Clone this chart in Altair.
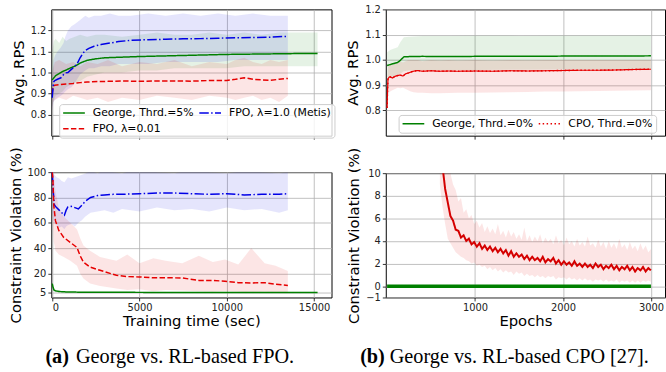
import altair as alt
import pandas as pd

# ---------------- (a) top : Avg. RPS vs training time ----------------
tl_george_x = [0, 100, 200, 400, 600, 800, 1000, 1300, 1600, 2000, 2500, 3000, 4000, 5000,
               6000, 7000, 8000, 9000, 10000, 11000, 12000, 13000, 14000, 15200]
tl_george_y = [0.965, 0.975, 0.985, 0.995, 1.005, 1.012, 1.02, 1.03, 1.045, 1.058, 1.065, 1.07,
               1.073, 1.076, 1.078, 1.08, 1.082, 1.084, 1.086, 1.087, 1.088, 1.089, 1.09, 1.09]
tl_george_hi = [1.10, 1.15, 1.16, 1.14, 1.17, 1.15, 1.16, 1.17, 1.18, 1.17, 1.18, 1.18,
                1.17, 1.18, 1.19, 1.18, 1.18, 1.19, 1.18, 1.19, 1.18, 1.19, 1.19, 1.19]
tl_george_lo = [0.84, 0.87, 0.89, 0.90, 0.91, 0.93, 0.94, 0.95, 0.96, 0.98, 0.99, 1.00,
                1.00, 1.01, 1.01, 1.02, 1.02, 1.02, 1.02, 1.03, 1.03, 1.03, 1.03, 1.03]

tl_metis_x = [0, 40, 80, 150, 300, 500, 650, 750, 900, 1100, 1300, 1450, 1600, 1750, 1900,
              2100, 2400, 2800, 3300, 3800, 4500, 5500, 6500, 7500, 8500, 9500, 10500, 11500,
              12500, 13500]
tl_metis_y = [0.88, 0.92, 0.955, 0.962, 0.968, 0.975, 0.99, 0.998, 1.0, 1.015, 1.03, 1.045,
              1.07, 1.09, 1.105, 1.115, 1.125, 1.133, 1.14, 1.147, 1.153, 1.156, 1.158, 1.16,
              1.161, 1.163, 1.165, 1.166, 1.168, 1.172]
tl_metis_hi = [0.95, 1.02, 1.06, 1.08, 1.10, 1.12, 1.14, 1.17, 1.2, 1.22, 1.23, 1.24, 1.25,
               1.26, 1.27, 1.26, 1.27, 1.27, 1.28, 1.27, 1.27, 1.28, 1.27, 1.28, 1.27, 1.28,
               1.27, 1.28, 1.27, 1.27]
tl_metis_lo = [0.82, 0.84, 0.86, 0.87, 0.88, 0.89, 0.9, 0.91, 0.92, 0.93, 0.95, 0.97, 0.99,
               1.0, 1.01, 1.02, 1.02, 1.03, 1.03, 1.04, 1.04, 1.04, 1.05, 1.05, 1.05, 1.05,
               1.06, 1.06, 1.06, 1.06]

tl_fpo_x = [0, 50, 150, 400, 800, 1200, 1600, 2000, 2600, 3200, 4000, 5000, 6000, 7000,
            8000, 9000, 10000, 10500, 11000, 11500, 12000, 12500, 13000, 13500]
tl_fpo_y = [0.90, 0.935, 0.94, 0.942, 0.945, 0.948, 0.952, 0.955, 0.957, 0.958, 0.96, 0.958,
            0.96, 0.96, 0.959, 0.962, 0.962, 0.968, 0.975, 0.968, 0.965, 0.963, 0.968, 0.972]
tl_fpo_hi = [0.98, 1.02, 1.05, 1.06, 1.04, 1.05, 1.03, 1.05, 1.04, 1.06, 1.03, 1.05,
             1.04, 1.06, 1.03, 1.05, 1.04, 1.06, 1.07, 1.05, 1.04, 1.06, 1.05, 1.06]
tl_fpo_lo = [0.82, 0.86, 0.87, 0.88, 0.87, 0.89, 0.88, 0.87, 0.88, 0.86, 0.88, 0.87,
             0.89, 0.88, 0.87, 0.89, 0.88, 0.87, 0.88, 0.89, 0.87, 0.88, 0.86, 0.89]

# ---------------- (a) bottom : constraint violation ----------------
bl_metis_x = [0, 60, 130, 250, 400, 550, 700, 800, 900, 1100, 1300, 1500, 1700, 1900, 2200,
              2600, 3000, 3500, 4000, 5000, 6000, 7000, 8000, 9000, 10000, 11000, 12000,
              13000, 13500]
bl_metis_y = [100, 85, 74, 72, 70, 68, 66, 70, 72.5, 73, 72, 71, 74, 77, 80, 81.5, 82, 82.5,
              82.5, 83, 83.5, 83.5, 83, 82.5, 83, 82, 82.5, 82.5, 83]
bl_metis_hi = [100, 100, 98, 96, 95, 93, 92, 94, 96, 95, 96, 97, 98, 99, 101, 99, 102, 100,
               99, 103, 100, 99, 102, 100, 99, 101, 100, 99, 100]
bl_metis_lo = [70, 62, 60, 58, 56, 57, 55, 57, 58, 59, 57, 60, 62, 65, 68, 69, 70, 68, 71,
               69, 72, 70, 71, 69, 72, 70, 71, 68, 70]

bl_fpo_x = [0, 40, 90, 190, 380, 660, 1040, 1420, 1600, 1790, 2170, 2740, 3680, 4300, 5000,
            5800, 6500, 7450, 8400, 9200, 9900, 10660, 11400, 12170, 12800, 13500]
bl_fpo_y = [100, 95, 74, 61.5, 54, 48.5, 44.5, 40.5, 34, 29, 25, 22.5, 18.5, 17.5, 17.2,
            16.5, 16.6, 16.4, 14.5, 14.5, 13.8, 12.7, 12.5, 12.7, 11.5, 10.5]
bl_fpo_hi = [100, 100, 98, 85, 72, 65, 60, 55, 48, 42, 38, 33, 30, 35, 28, 32, 30, 28, 34,
             29, 31, 27, 40, 28, 26, 22]
bl_fpo_lo = [100, 60, 45, 38, 35, 33, 30, 26, 20, 16, 12, 10, 8, 7, 7.5, 6, 7, 6.5, 6, 5.5,
             6, 5.5, 5, 5.5, 5, 5]

bl_george_x = [0, 50, 100, 200, 400, 800, 1500, 3000, 6000, 10000, 15200]
bl_george_y = [12, 9, 7, 6.2, 5.7, 5.4, 5.2, 5.1, 5.0, 5.0, 5.0]
bl_george_hi = [13, 11, 8.5, 7.2, 6.5, 6.0, 5.8, 5.6, 5.5, 5.5, 5.5]
bl_george_lo = [10, 7, 5.5, 5.2, 5.0, 4.8, 4.6, 4.6, 4.5, 4.5, 4.5]

# ---------------- (b) top : Avg. RPS vs epochs ----------------
tr_george_x = [0, 40, 80, 120, 150, 170, 190, 250, 400, 700, 1000, 1500, 2000, 2500, 3000]
tr_george_y = [0.978, 0.982, 0.986, 0.99, 0.998, 1.005, 1.012, 1.013, 1.014, 1.013, 1.014,
               1.014, 1.015, 1.015, 1.016]
tr_george_hi = [1.03, 1.04, 1.045, 1.05, 1.07, 1.08, 1.09, 1.092, 1.095, 1.095, 1.096, 1.095,
                1.096, 1.096, 1.097]
tr_george_lo = [0.93, 0.93, 0.935, 0.94, 0.945, 0.95, 0.955, 0.958, 0.96, 0.96, 0.96, 0.961,
                0.962, 0.962, 0.963]

tr_cpo_x = [0, 5, 10, 20, 35, 60, 90, 120, 150, 180, 210, 240, 270, 300, 350, 400, 500, 600,
            700, 800, 1000, 1200, 1400, 1600, 1800, 2000, 2200, 2400, 2600, 2800, 3000]
tr_cpo_y = [0.81, 0.88, 0.925, 0.93, 0.933, 0.928, 0.935, 0.938, 0.94, 0.936, 0.945, 0.948,
            0.952, 0.955, 0.958, 0.955, 0.957, 0.955, 0.956, 0.955, 0.956, 0.955, 0.957, 0.956,
            0.957, 0.958, 0.959, 0.959, 0.96, 0.962, 0.963]
tr_cpo_hi = [0.90, 0.95, 0.97, 0.98, 0.985, 0.98, 0.99, 0.99, 0.995, 0.99, 0.995, 1.0, 1.0,
             1.0, 1.0, 0.995, 1.0, 0.998, 1.0, 0.998, 1.0, 0.998, 1.0, 0.999, 1.0, 1.0, 1.0,
             1.0, 1.0, 1.0, 1.0]
tr_cpo_lo = [0.72, 0.80, 0.86, 0.87, 0.875, 0.88, 0.885, 0.89, 0.888, 0.89, 0.885, 0.88,
             0.875, 0.872, 0.87, 0.87, 0.868, 0.868, 0.869, 0.87, 0.87, 0.871, 0.872, 0.873,
             0.875, 0.875, 0.876, 0.877, 0.878, 0.879, 0.88]

# ---------------- (b) bottom : constraint violation vs epochs ----------------
br_cpo_x = [600, 630, 660, 690, 720, 750, 780, 810, 840, 870,
            900, 930, 960, 990, 1020, 1050, 1080, 1110, 1140, 1170,
            1200, 1230, 1260, 1290, 1320, 1350, 1380, 1410, 1440, 1470,
            1500, 1530, 1560, 1590, 1620, 1650, 1680, 1710, 1740, 1770,
            1800, 1830, 1860, 1890, 1920, 1950, 1980, 2010, 2040, 2070,
            2100, 2130, 2160, 2190, 2220, 2250, 2280, 2310, 2340, 2370,
            2400, 2430, 2460, 2490, 2520, 2550, 2580, 2610, 2640, 2670,
            2700, 2730, 2760, 2790, 2820, 2850, 2880, 2910, 2940, 2970,
            3000]
br_cpo_y = [13.0, 10.6, 8.6, 7.4, 6.2, 5.8, 5.0, 4.9, 4.3, 4.5,
            4.0, 4.2, 3.7, 3.9, 3.5, 3.8, 3.3, 3.6, 3.2, 3.5,
            3.1, 3.4, 3.0, 3.3, 2.9, 3.2, 2.7, 3.1, 2.6, 2.9,
            2.6, 2.8, 2.4, 2.7, 2.3, 2.6, 2.3, 2.5, 2.2, 2.6,
            2.1, 2.4, 2.2, 2.5, 2.0, 2.3, 1.9, 2.2, 1.9, 2.1,
            1.8, 2.2, 1.8, 2.0, 1.7, 2.0, 1.7, 1.9, 1.6, 2.0,
            1.7, 1.9, 1.5, 1.8, 1.6, 1.9, 1.5, 1.8, 1.4, 1.7,
            1.5, 1.8, 1.4, 1.7, 1.3, 1.6, 1.4, 1.7, 1.3, 1.6,
            1.4]
br_cpo_hi = [16, 14, 12, 11, 10, 9, 8.5, 7.5, 7.8, 6.5,
             6.8, 6.0, 6.3, 5.5, 5.8, 5.2, 5.6, 4.8, 5.3, 4.7,
             5.1, 4.6, 5.5, 4.5, 4.9, 4.3, 5.0, 4.4, 4.8, 4.2,
             4.6, 4.1, 5.2, 4.0, 4.5, 3.9, 4.4, 4.0, 4.6, 3.8,
             4.3, 3.9, 4.2, 3.7, 4.5, 3.8, 4.1, 3.6, 4.3, 3.7,
             4.0, 3.5, 4.2, 3.6, 3.9, 3.5, 4.4, 3.6, 3.8, 3.4,
             4.1, 3.5, 3.9, 3.3, 4.0, 3.4, 3.8, 3.3, 4.2, 3.4,
             3.7, 3.2, 3.9, 3.3, 3.6, 3.1, 3.8, 3.2, 3.6, 3.0,
             3.3]
br_cpo_lo = [9, 7, 5.5, 4.2, 3.8, 3.4, 3.0, 2.8, 2.6, 2.5,
             2.3, 2.2, 2.0, 2.1, 1.8, 1.9, 1.7, 1.8, 1.5, 1.7,
             1.4, 1.6, 1.3, 1.5, 1.2, 1.4, 1.2, 1.3, 1.0, 1.3,
             1.1, 1.2, 0.9, 1.1, 0.9, 1.0, 0.8, 1.0, 0.8, 0.9,
             0.7, 0.9, 0.8, 0.9, 0.6, 0.8, 0.7, 0.8, 0.6, 0.8,
             0.6, 0.7, 0.5, 0.7, 0.5, 0.7, 0.5, 0.6, 0.4, 0.6,
             0.5, 0.6, 0.4, 0.6, 0.4, 0.5, 0.4, 0.6, 0.3, 0.5,
             0.4, 0.5, 0.3, 0.5, 0.3, 0.5, 0.3, 0.5, 0.4, 0.5,
             0.4]
br_george_x = [0, 3000]
br_george_y = [0, 0]

# ---------------- labels ----------------
tl_names = ["George, Thrd.=5%", "FPO, λ=0.01", "FPO, λ=1.0 (Metis)"]
tr_names = ["George, Thrd.=0%", "CPO, Thrd.=0%"]
left_x_ticks = [0, 5000, 10000, 15000]
right_x_ticks = [1000, 2000, 3000]
rps_ticks = [0.8, 0.9, 1.0, 1.1, 1.2]
bl_y_ticks = [5, 20, 40, 60, 80, 100]
br_y_ticks = [-1, 0, 2, 4, 6, 8, 10]

FONT = "DejaVu Sans"
SERIF = "Liberation Serif"
GREEN, BLUE, RED, DARKRED = "#008000", "#0000e6", "#e60000", "#d40000"
SOLID, DASHED, DASHDOT, DOTTED = [1, 0], [5.5, 2.4], [9.6, 2.4, 1.5, 2.4], [1.5, 2.5]
BAND_OP = 0.1

x_left = alt.Scale(domain=[-50, 16000], nice=False, zero=False)
x_right = alt.Scale(domain=[-15, 3160], nice=False, zero=False)
y_tl = alt.Scale(domain=[0.7, 1.3], nice=False, zero=False)
y_tr = alt.Scale(domain=[0.7, 1.2], nice=False, zero=False)
y_bl = alt.Scale(domain=[1, 100], nice=False, zero=False)
y_br = alt.Scale(domain=[-1, 10], nice=False, zero=False)


def xenc(scale, ticks, labels, title):
    ax = alt.Axis(values=ticks, labels=labels, format="d", title=title)
    return alt.X("x:Q", scale=scale, axis=ax)


def yenc(field, scale, ticks, fmt, title):
    return alt.Y(field, scale=scale, axis=alt.Axis(values=ticks, format=fmt, title=title))


def band(x, lo, hi, color, X, ysc, yt, fmt, title):
    d = pd.DataFrame({"x": x, "lo": lo, "hi": hi})
    return alt.Chart(d).mark_area(color=color, opacity=BAND_OP, clip=True).encode(
        x=X, y=yenc("lo:Q", ysc, yt, fmt, title), y2="hi:Q")


def line(x, y, color, dash, width, X, ysc, yt, fmt, title):
    d = pd.DataFrame({"x": x, "y": y})
    return alt.Chart(d).mark_line(color=color, strokeDash=dash, strokeWidth=width,
                                  clip=True).encode(x=X, y=yenc("y:Q", ysc, yt, fmt, title))


def legend(lx, ly):
    return alt.Legend(title=None, orient="none", legendX=lx, legendY=ly, columns=2,
                      symbolType="stroke", symbolSize=484, symbolStrokeWidth=1.5,
                      labelFont=FONT, labelFontSize=11, labelColor="black", labelLimit=250,
                      fillColor="rgba(255,255,255,0.8)", strokeColor="#cccccc",
                      cornerRadius=3, padding=3, rowPadding=4, columnPadding=4,
                      labelOffset=7, clipHeight=12)


def caption(tag, text, tx, rx, y):
    a = alt.Chart(pd.DataFrame({"t": [tag]})).mark_text(
        font=SERIF, fontSize=20.5, fontWeight="bold", align="left", baseline="alphabetic",
        color="black").encode(text="t:N", x=alt.value(tx), y=alt.value(y))
    b = alt.Chart(pd.DataFrame({"t": [text]})).mark_text(
        font=SERIF, fontSize=20.5, align="left", baseline="alphabetic",
        color="black").encode(text="t:N", x=alt.value(rx), y=alt.value(y))
    return [a, b]


# ---------- top-left ----------
X_tl = xenc(x_left, left_x_ticks, False, None)
tl_args = (X_tl, y_tl, rps_ticks, ".1f", "Avg. RPS")
tl_lines = pd.concat([
    pd.DataFrame({"x": tl_george_x, "y": tl_george_y, "s": tl_names[0]}),
    pd.DataFrame({"x": tl_fpo_x, "y": tl_fpo_y, "s": tl_names[1]}),
    pd.DataFrame({"x": tl_metis_x, "y": tl_metis_y, "s": tl_names[2]}),
])
tl_leg = legend(8, 96)
tl_line_layer = alt.Chart(tl_lines).mark_line(strokeWidth=1.5, clip=True).encode(
    x=X_tl, y=yenc("y:Q", y_tl, rps_ticks, ".1f", "Avg. RPS"),
    color=alt.Color("s:N", scale=alt.Scale(domain=tl_names, range=[GREEN, RED, BLUE]),
                    legend=tl_leg),
    strokeDash=alt.StrokeDash("s:N", scale=alt.Scale(domain=tl_names,
                                                     range=[SOLID, DASHED, DASHDOT]),
                              legend=tl_leg),
)
tl = alt.layer(
    band(tl_george_x, tl_george_lo, tl_george_hi, GREEN, *tl_args),
    band(tl_metis_x, tl_metis_lo, tl_metis_hi, BLUE, *tl_args),
    band(tl_fpo_x, tl_fpo_lo, tl_fpo_hi, RED, *tl_args),
    tl_line_layer,
).properties(width=284, height=128)

# ---------- bottom-left ----------
X_bl = xenc(x_left, left_x_ticks, True, "Training time (sec)")
bl_args = (X_bl, y_bl, bl_y_ticks, "d", "Constraint Violation (%)")
bl = alt.layer(
    band(bl_metis_x, bl_metis_lo, bl_metis_hi, BLUE, *bl_args),
    band(bl_fpo_x, bl_fpo_lo, bl_fpo_hi, RED, *bl_args),
    band(bl_george_x, bl_george_lo, bl_george_hi, GREEN, *bl_args),
    line(bl_metis_x, bl_metis_y, BLUE, DASHDOT, 1.5, *bl_args),
    line(bl_fpo_x, bl_fpo_y, RED, DASHED, 1.5, *bl_args),
    line(bl_george_x, bl_george_y, GREEN, SOLID, 1.5, *bl_args),
    *caption("(a)", "George vs. RL-based FPO.", -6, 25, 193),
).properties(width=284, height=127)

# ---------- top-right ----------
X_tr = xenc(x_right, right_x_ticks, False, None)
tr_args = (X_tr, y_tr, rps_ticks, ".1f", "Avg. RPS")
tr_lines = pd.concat([
    pd.DataFrame({"x": tr_george_x, "y": tr_george_y, "s": tr_names[0]}),
    pd.DataFrame({"x": tr_cpo_x, "y": tr_cpo_y, "s": tr_names[1]}),
])
tr_leg = legend(13, 107)
tr_line_layer = alt.Chart(tr_lines).mark_line(strokeWidth=1.5, clip=True).encode(
    x=X_tr, y=yenc("y:Q", y_tr, rps_ticks, ".1f", "Avg. RPS"),
    color=alt.Color("s:N", scale=alt.Scale(domain=tr_names, range=[GREEN, RED]),
                    legend=tr_leg),
    strokeDash=alt.StrokeDash("s:N", scale=alt.Scale(domain=tr_names, range=[SOLID, DOTTED]),
                              legend=tr_leg),
)
tr = alt.layer(
    band(tr_george_x, tr_george_lo, tr_george_hi, GREEN, *tr_args),
    band(tr_cpo_x, tr_cpo_lo, tr_cpo_hi, RED, *tr_args),
    tr_line_layer,
    line(tr_cpo_x, tr_cpo_y, RED, SOLID, 1.2, *tr_args),
).properties(width=283, height=128)

# ---------- bottom-right ----------
X_br = xenc(x_right, right_x_ticks, True, "Epochs")
br_args = (X_br, y_br, br_y_ticks, "d", "Constraint Violation (%)")
br = alt.layer(
    band(br_cpo_x, br_cpo_lo, br_cpo_hi, RED, *br_args),
    line(br_cpo_x, br_cpo_y, DARKRED, SOLID, 2, *br_args),
    line(br_george_x, br_george_y, GREEN, SOLID, 3.5, *br_args),
    *caption("(b)", "George vs. RL-based CPO [27].", -26, 4, 192),
).properties(width=283, height=126)

left = alt.vconcat(tl, bl, spacing=5).resolve_scale(
    color="independent", strokeDash="independent").resolve_legend(
    color="independent", strokeDash="independent")
right = alt.vconcat(tr, br, spacing=6).resolve_scale(
    color="independent", strokeDash="independent").resolve_legend(
    color="independent", strokeDash="independent")

chart = alt.hconcat(left, right, spacing=10).resolve_scale(
    color="independent", strokeDash="independent").resolve_legend(
    color="independent", strokeDash="independent").properties(
    padding={"left": 7, "top": 1, "right": 0, "bottom": 0}, background="white"
).configure(font=FONT).configure_axis(
    labelFont=FONT, labelFontSize=10, labelColor="#222222",
    titleFont=FONT, titleFontSize=15, titleFontWeight="normal", titleColor="black",
    tickSize=3.5, tickColor="black", tickWidth=0.8, domain=False,
    grid=True, gridColor="#b0b0b0", gridWidth=0.8, labelPadding=2,
).configure_axisY(titlePadding=4).configure_axisX(titlePadding=1).configure_view(
    stroke="black", strokeWidth=1)

chart.save("out.html", embed_options={"renderer": "svg", "actions": False})
